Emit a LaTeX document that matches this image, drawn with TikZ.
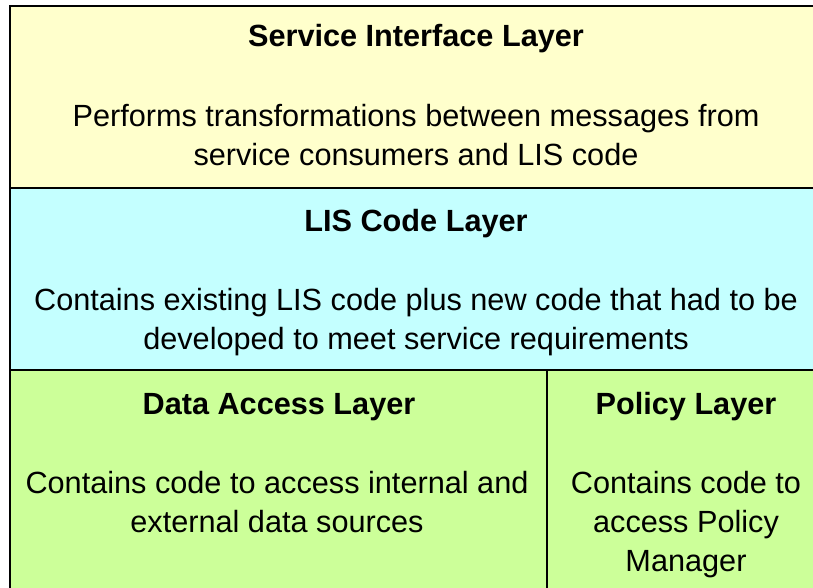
\documentclass[tikz,border=0pt]{standalone}
\usepackage{fontspec}
\setmainfont{Liberation Sans}
\usetikzlibrary{positioning}

\definecolor{silfill}{HTML}{FFFFCC}
\definecolor{lisfill}{HTML}{C4FFFF}
\definecolor{dalfill}{HTML}{CCFF99}

\begin{document}
\begin{tikzpicture}[x=0.75pt, y=-0.75pt,
    layer/.style={draw=black, line width=1.5pt},
    ttl/.style={font=\fontsize{23}{29.25}\selectfont\bfseries, anchor=base},
    txt/.style={font=\fontsize{23}{29.25}\selectfont, anchor=base,
        align=center, inner sep=0pt}]

\useasboundingbox (0,0) rectangle (813,588);

\def\LEFT{10}
\def\RIGHT{830}
\def\TOP{6}
\def\BOT{600}
\def\YA{188}
\def\YB{370}
\def\XDIV{547}

% layer fills
\fill[silfill] (\LEFT,\TOP) rectangle (\RIGHT,\YA);
\fill[lisfill] (\LEFT,\YA) rectangle (\RIGHT,\YB);
\fill[dalfill] (\LEFT,\YB) rectangle (\RIGHT,\BOT);

% borders
\draw[layer] (\LEFT,\TOP) rectangle (\RIGHT,\BOT);
\draw[layer] (\LEFT,\YA) -- (\RIGHT,\YA);
\draw[layer] (\LEFT,\YB) -- (\RIGHT,\YB);
\draw[layer] (\XDIV,\YB) -- (\XDIV,\BOT);

% service interface layer (base = last line)
\node[ttl] (silname) at (416,47) {Service Interface Layer};
\node[txt] (siltext) at (416,166)
    {Performs transformations between messages from\\service consumers and LIS code};

% lis code layer
\node[ttl] (lisname) at (416,231) {LIS Code Layer};
\node[txt] (listext) at (416,349)
    {Contains existing LIS code plus new code that had to be\\developed to meet service requirements};

% data access and policy layers
\node[ttl] (dalname) at (279,414) {Data Access Layer};
\node[txt] (daltext) at (277,532)
    {Contains code to access internal and\\external data sources};
\node[ttl] (polname) at (686,414) {Policy Layer};
\node[txt] (poltext) at (686,571)
    {Contains code to\\access Policy\\Manager};

\end{tikzpicture}
\end{document}
